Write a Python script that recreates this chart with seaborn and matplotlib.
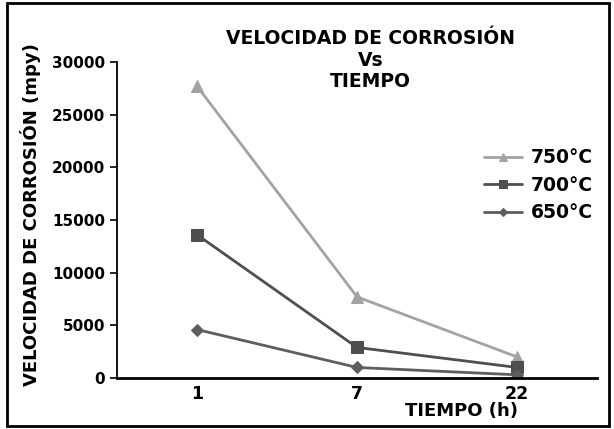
import pandas as pd
import matplotlib
matplotlib.use("Agg")
import matplotlib.pyplot as plt
import seaborn as sns
from matplotlib.patches import Rectangle

tiempo = ["1", "7", "22"]
v750 = [27700, 7700, 2000]
v700 = [13600, 2900, 1000]
v650 = [4600, 1000, 300]
series = ["750°C", "700°C", "650°C"]

df = pd.DataFrame({
    "tiempo": tiempo * 3,
    "vel": v750 + v700 + v650,
    "serie": [s for s in series for _ in tiempo],
})

sns.set_style("white")
plt.rcParams["font.family"] = ["DejaVu Sans"]
plt.rcParams["text.color"] = "black"
plt.rcParams["xtick.color"] = "black"
plt.rcParams["ytick.color"] = "black"

fig = plt.figure(figsize=(6.14, 4.29), dpi=100)
ax = fig.add_axes([0.1906, 0.1189, 0.7818, 0.7366])

colors = {"750°C": "#a3a3a3", "700°C": "#4f4f4f", "650°C": "#5e5e5e"}
markers = {"750°C": "^", "700°C": "s", "650°C": "D"}
sizes = {"750°C": 8, "700°C": 8, "650°C": 6}
for s in series:
    d = df[df["serie"] == s]
    sns.lineplot(data=d, x="tiempo", y="vel", ax=ax, color=colors[s], marker=markers[s],
                 markersize=sizes[s], markeredgecolor=colors[s], linewidth=2, label=s)

ax.set_xlim(-0.5, 2.5)
ax.set_ylim(0, 30000)
ax.set_yticks(range(0, 30001, 5000))
ax.set_xticks([0, 1, 2])
ax.set_xticklabels(tiempo)
ax.set_xticks([-0.5, 0.5, 1.5, 2.5], minor=True)
ax.tick_params(axis="x", which="major", length=0, pad=5, labelsize=12.5)
ax.tick_params(axis="x", which="minor", length=5, width=1.2, direction="out", color="black")
ax.tick_params(axis="y", length=5, width=1.2, direction="out", color="black", labelsize=11, left=True)
for lab in ax.get_xticklabels() + ax.get_yticklabels():
    lab.set_fontweight("bold")

sns.despine(ax=ax)
ax.spines["left"].set_color("black")
ax.spines["bottom"].set_color("black")
ax.spines["left"].set_linewidth(1.3)
ax.spines["bottom"].set_linewidth(2)

ax.set_xlabel("")
ax.set_ylabel("")
fig.text(0.049, 0.5, "VELOCIDAD DE CORROSIÓN (mpy)", rotation=90, ha="center", va="center",
         fontsize=13, fontweight="bold")
fig.text(0.751, 0.042, "TIEMPO (h)", ha="center", va="center", fontsize=13, fontweight="bold")
fig.text(0.604, 0.86, "VELOCIDAD DE CORROSIÓN\nVs\nTIEMPO", ha="center", va="center",
         fontsize=13.5, fontweight="bold", linespacing=1.15)

leg = ax.legend(loc="upper left", bbox_to_anchor=(0.73, 0.78), frameon=False,
                prop={"weight": "bold", "size": 13.5}, handlelength=2.0, handletextpad=0.5,
                labelspacing=0.45, markerscale=0.75)

fig.patches.append(Rectangle((0.012, 0.008), 0.98, 0.985, transform=fig.transFigure,
                             fill=False, edgecolor="black", linewidth=2))

fig.savefig("out.png", dpi=100)
